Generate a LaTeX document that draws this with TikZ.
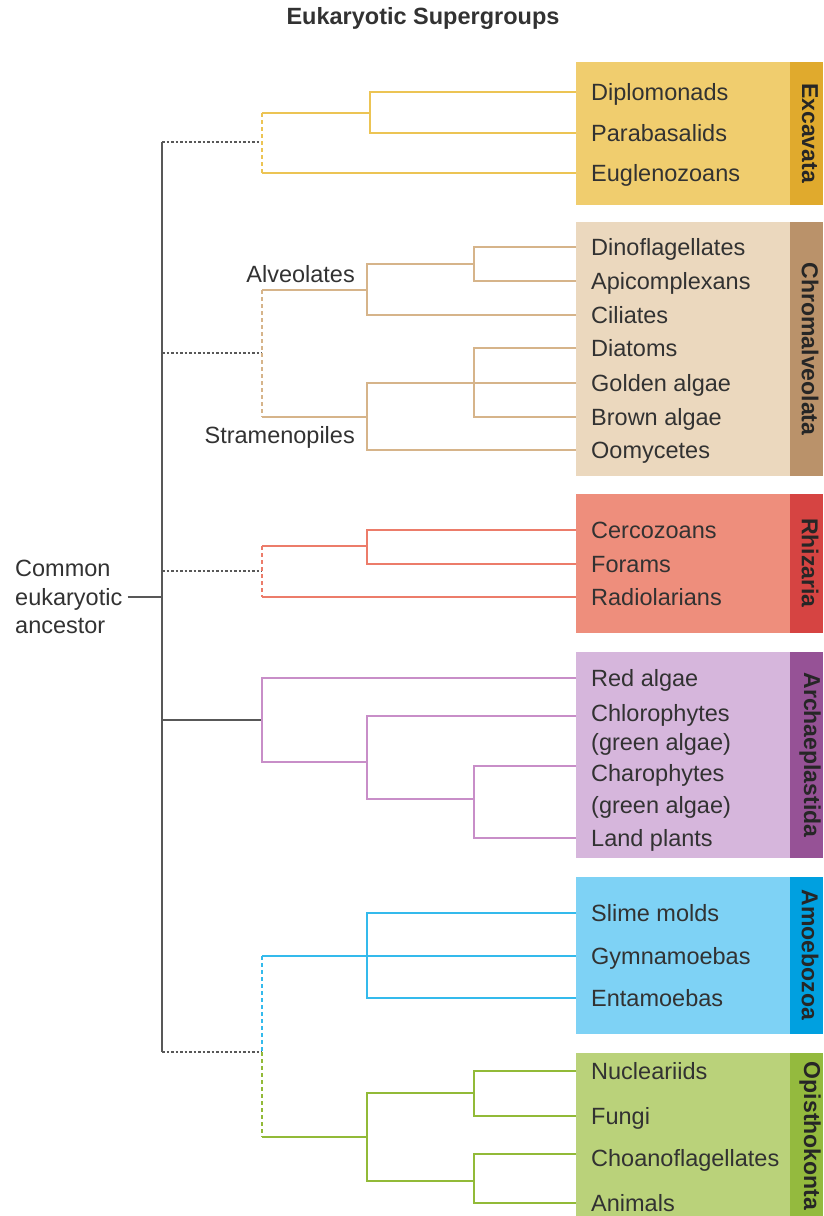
\documentclass[tikz,border=0pt]{standalone}
\usepackage{fontspec}
\setmainfont{Liberation Sans}
\usetikzlibrary{positioning}

\definecolor{exfill}{RGB}{240,205,110}
\definecolor{exstrip}{RGB}{224,170,45}
\definecolor{exline}{RGB}{236,196,84}
\definecolor{chfill}{RGB}{235,216,190}
\definecolor{chstrip}{RGB}{186,146,106}
\definecolor{chline}{RGB}{214,180,138}
\definecolor{rhfill}{RGB}{238,142,124}
\definecolor{rhstrip}{RGB}{214,68,66}
\definecolor{rhline}{RGB}{236,124,106}
\definecolor{arfill}{RGB}{214,182,220}
\definecolor{arstrip}{RGB}{150,82,150}
\definecolor{arline}{RGB}{200,142,200}
\definecolor{amfill}{RGB}{126,210,245}
\definecolor{amstrip}{RGB}{0,160,224}
\definecolor{amline}{RGB}{52,186,236}
\definecolor{opfill}{RGB}{186,210,122}
\definecolor{opstrip}{RGB}{148,186,62}
\definecolor{opline}{RGB}{146,186,56}
\definecolor{trunkgray}{RGB}{88,88,88}
\definecolor{txtgray}{RGB}{50,50,50}

\begin{document}
\begin{tikzpicture}[
    x=1pt, y=-1pt,
    taxon/.style={anchor=west, inner xsep=15pt, inner ysep=0pt, text height=16pt, text depth=0pt, font=\fontsize{23.5}{28}\selectfont, text=txtgray},
    clade/.style={anchor=east, inner sep=0pt, font=\fontsize{23.5}{28}\selectfont, text=txtgray},
    supergroup/.style={rotate=-90, inner sep=0pt, font=\fontsize{23}{28}\selectfont\bfseries, text=black!85},
    branch/.style={line width=2pt},
    trunk/.style={draw=trunkgray, line width=2.5pt},
    stem/.style={draw=trunkgray, line width=2pt, dash pattern=on 2.5pt off 2pt},
    link/.style={line width=1.2pt, dash pattern=on 4pt off 3pt}
]
    \useasboundingbox (0,0) rectangle (823,1216);

    \node (title) at (423,24) [anchor=base, font=\fontsize{23.5}{28}\selectfont\bfseries, text=txtgray] {Eukaryotic Supergroups};

    % Coloured boxes with side strips
    \fill[exfill] (576,62) rectangle (790,205);   \fill[exstrip] (790,62) rectangle (823,205);
    \fill[chfill] (576,222) rectangle (790,476);  \fill[chstrip] (790,222) rectangle (823,476);
    \fill[rhfill] (576,494) rectangle (790,633);  \fill[rhstrip] (790,494) rectangle (823,633);
    \fill[arfill] (576,652) rectangle (790,858);  \fill[arstrip] (790,652) rectangle (823,858);
    \fill[amfill] (576,877) rectangle (790,1034); \fill[amstrip] (790,877) rectangle (823,1034);
    \fill[opfill] (576,1053) rectangle (790,1216); \fill[opstrip] (790,1053) rectangle (823,1216);

    \node (exlbl) at (810,133) [supergroup] {Excavata};
    \node (chlbl) at (810,349) [supergroup] {Chromalveolata};
    \node (rhlbl) at (810,563) [supergroup] {Rhizaria};
    \node (arlbl) at (810,755) [supergroup] {Archaeplastida};
    \node (amlbl) at (810,955) [supergroup] {Amoebozoa};
    \node (oplbl) at (810,1136) [supergroup] {Opisthokonta};

    % Taxa
    \node (dip) at (576,92) [taxon] {Diplomonads};
    \node (par) at (576,133) [taxon] {Parabasalids};
    \node (eug) at (576,173) [taxon] {Euglenozoans};

    \node (din) at (576,247) [taxon] {Dinoflagellates};
    \node (api) at (576,281) [taxon] {Apicomplexans};
    \node (cil) at (576,315) [taxon] {Ciliates};
    \node (dia) at (576,348) [taxon] {Diatoms};
    \node (gol) at (576,383) [taxon] {Golden algae};
    \node (bro) at (576,417) [taxon] {Brown algae};
    \node (oom) at (576,450) [taxon] {Oomycetes};

    \node (cer) at (576,530) [taxon] {Cercozoans};
    \node (for) at (576,564) [taxon] {Forams};
    \node (rad) at (576,597) [taxon] {Radiolarians};

    \node (red) at (576,678) [taxon] {Red algae};
    \node (chl) at (576,713) [taxon] {Chlorophytes};
    \node (chlg) at (576,742) [taxon] {(green algae)};
    \node (cha) at (576,773) [taxon] {Charophytes};
    \node (chag) at (576,805) [taxon] {(green algae)};
    \node (lan) at (576,838) [taxon] {Land plants};

    \node (sli) at (576,913) [taxon] {Slime molds};
    \node (gym) at (576,956) [taxon] {Gymnamoebas};
    \node (ent) at (576,998) [taxon] {Entamoebas};

    \node (nuc) at (576,1071) [taxon] {Nucleariids};
    \node (fun) at (576,1116) [taxon] {Fungi};
    \node (cho) at (576,1158) [taxon] {Choanoflagellates};
    \node (ani) at (576,1203) [taxon] {Animals};

    \node (alv) at (355,274) [clade] {Alveolates};
    \node (str) at (355,437) [clade] {Stramenopiles};
    \node (anc) at (15,597) [anchor=west, inner sep=0pt, align=left, font=\fontsize{23.5}{28.5}\selectfont, text=txtgray] {Common\\eukaryotic\\ancestor};

    % Junctions
    \coordinate (tEx) at (162,142);
    \coordinate (tCh) at (162,353);
    \coordinate (tRh) at (162,571);
    \coordinate (tAr) at (162,720);
    \coordinate (tAO) at (162,1052);
    \coordinate (root) at (162,597);

    \coordinate (exR) at (262,142);  \coordinate (exA) at (370,113);
    \coordinate (chR) at (262,353);  \coordinate (alvA) at (367,290); \coordinate (alvB) at (474,264);
    \coordinate (strA) at (367,417); \coordinate (strB) at (474,383);
    \coordinate (rhR) at (262,571);  \coordinate (rhA) at (367,546);
    \coordinate (arR) at (262,720);  \coordinate (arA) at (367,762); \coordinate (arB) at (474,799);
    \coordinate (amR) at (262,956);  \coordinate (amA) at (367,956);
    \coordinate (opR) at (262,1137); \coordinate (opA) at (367,1137);
    \coordinate (opB) at (474,1093); \coordinate (opC) at (474,1181);

    % Trunk
    \draw[trunk] (tEx) -- (tAO);
    \draw[trunk] ([xshift=5pt]anc.east) -- (root);
    \draw[trunk] (tAr) -- (arR);
    \draw[stem] (tEx) -- (exR);
    \draw[stem] (tCh) -- (chR);
    \draw[stem] (tRh) -- (rhR);
    \draw[stem] (tAO) -- (amR |- tAO);

    % Excavata
    \draw[link, exline] (exR |- exA) -- (exR |- eug);
    \draw[branch, exline] (dip.west) -| (exA) |- (par.west);
    \draw[branch, exline] (exA) -- (exA -| exR);
    \draw[branch, exline] (exR |- eug) -- (eug.west);

    % Chromalveolata
    \draw[link, chline] (chR |- alvA) -- (chR |- strA);
    \draw[branch, chline] (din.west) -| (alvB) |- (api.west);
    \draw[branch, chline] (alvB) -| (alvA) |- (cil.west);
    \draw[branch, chline] (alvA) -- (alvA -| chR);
    \draw[branch, chline] (dia.west) -| (strB) |- (bro.west);
    \draw[branch, chline] (gol.west) -| (strA) |- (oom.west);
    \draw[branch, chline] (strA) -- (strA -| chR);

    % Rhizaria
    \draw[link, rhline] (rhR |- rhA) -- (rhR |- rad);
    \draw[branch, rhline] (cer.west) -| (rhA) |- (for.west);
    \draw[branch, rhline] (rhA) -- (rhA -| rhR);
    \draw[branch, rhline] (rhR |- rad) -- (rad.west);

    % Archaeplastida
    \draw[branch, arline] (red.west) -| (arR) |- (arA);
    \draw[branch, arline] ([yshift=-3pt]chl.west) -| (arA) |- (arB);
    \draw[branch, arline] ([yshift=7pt]cha.west) -| (arB) |- (lan.west);

    % Amoebozoa and Opisthokonta
    \draw[link, amline] (amR) -- (amR |- tAO);
    \draw[link, opline] (amR |- tAO) -- (opR);
    \draw[branch, amline] (sli.west) -| (amA) |- (ent.west);
    \draw[branch, amline] (amR) -- (gym.west);
    \draw[branch, opline] (nuc.west) -| (opB) |- (fun.west);
    \draw[branch, opline] ([yshift=4pt]cho.west) -| (opC) |- (ani.west);
    \draw[branch, opline] (opB) -| (opA) |- (opC);
    \draw[branch, opline] (opA) -- (opR);
\end{tikzpicture}
\end{document}
